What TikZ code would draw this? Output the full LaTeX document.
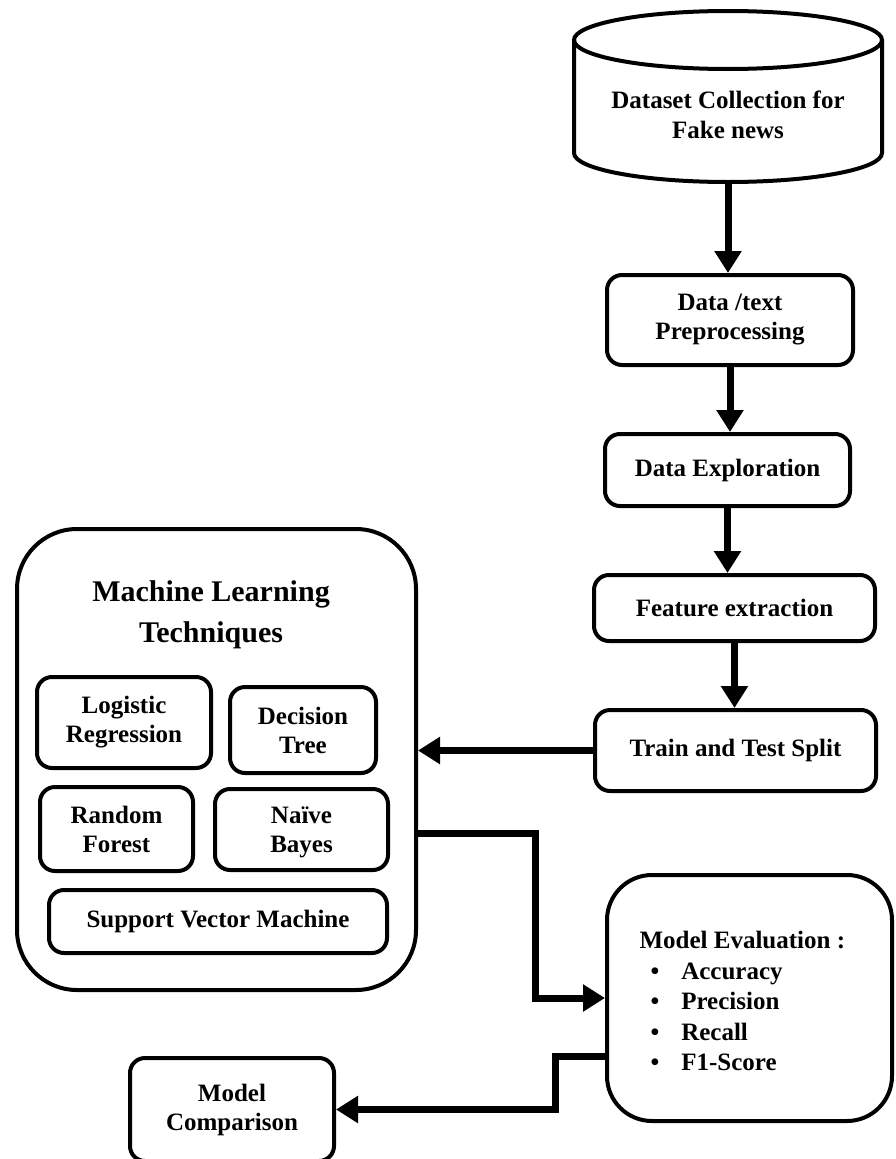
\documentclass[tikz,border=0pt]{standalone}
\usepackage{fontspec}
\setmainfont{Liberation Serif}
\usepackage{tikz}
\usetikzlibrary{arrows.meta}

\tikzset{
  stepbox/.style={draw, line width=4pt, rounded corners=15pt, align=center,
    font=\fontsize{25}{29}\selectfont\bfseries},
  bigbox/.style={draw, line width=4pt, align=center},
  flow/.style={line width=7pt, -{Triangle[length=22pt,width=26pt]}},
}

\begin{document}
\begin{tikzpicture}[x=1pt,y=-1pt]
\useasboundingbox (0,0) rectangle (896,1159);

\draw[line width=4pt] (728,40) ellipse (154 and 29);
\draw[line width=4pt] (574,40) -- (574,153) arc (180:0:154 and 29) -- (882,40);
\node[align=center, font=\fontsize{25}{30}\selectfont\bfseries] (dataset) at (728,115) {Dataset Collection for\\Fake news};
\coordinate (dsbot) at (728,182);

\node[stepbox, minimum width=246pt, minimum height=90pt] (prep) at (730,320) {Data /text\\Preprocessing};
\node[stepbox, minimum width=245pt, minimum height=72pt] (explore) at (727.5,470) {Data Exploration};
\node[stepbox, minimum width=281pt, minimum height=66pt] (feature) at (734.5,608) {Feature extraction};
\node[stepbox, minimum width=281pt, minimum height=81pt] (split) at (735.5,750.5) {Train and Test Split};

\node[bigbox, rounded corners=60pt, minimum width=399pt, minimum height=461pt] (ml) at (216.5,759.5) {};
\node[align=center, font=\fontsize{30}{41}\selectfont\bfseries] (mltitle) at (211,615) {Machine Learning\\Techniques};
\node[stepbox, minimum width=174pt, minimum height=91pt] (logreg) at (124,722.5) {Logistic\\Regression};
\node[stepbox, minimum width=146pt, minimum height=86pt] (dtree) at (303,730) {Decision\\Tree};
\node[stepbox, minimum width=153pt, minimum height=84pt] (rforest) at (116.5,829) {Random\\Forest};
\node[stepbox, text depth=0pt, minimum width=173pt, minimum height=81pt] (nbayes) at (301.5,829.5) {Naïve\\Bayes};
\node[stepbox, minimum width=338pt, minimum height=63pt] (svm) at (218,921.5) {Support Vector Machine};

\node[bigbox, rounded corners=45pt, minimum width=285pt, minimum height=246pt] (eval) at (749.5,998) {};
\node[anchor=west, align=left, font=\fontsize{25}{30.5}\selectfont\bfseries] (evallist) at (636,1001)
  {Model Evaluation :\\
   \hspace*{11pt}\textbullet\hspace{22pt}Accuracy\\
   \hspace*{11pt}\textbullet\hspace{22pt}Precision\\
   \hspace*{11pt}\textbullet\hspace{22pt}Recall\\
   \hspace*{11pt}\textbullet\hspace{22pt}F1-Score};

\node[stepbox, minimum width=204pt, minimum height=103pt] (compare) at (232,1109.5) {Model\\Comparison};

\draw[flow] (dsbot) -- (dsbot |- prep.north);
\draw[flow] (prep.south) -- (prep.south |- explore.north);
\draw[flow] (explore.south) -- (explore.south |- feature.north);
\draw[flow] (feature.south) -- (feature.south |- split.north);
\draw[flow] (split.west) -- (split.west -| ml.east);
\draw[flow] (ml.east |- 0,833) -- (535,833) |- (eval.west);
\draw[flow] (eval.west |- 0,1056) -- (555,1056) |- (compare.east);
\end{tikzpicture}
\end{document}
